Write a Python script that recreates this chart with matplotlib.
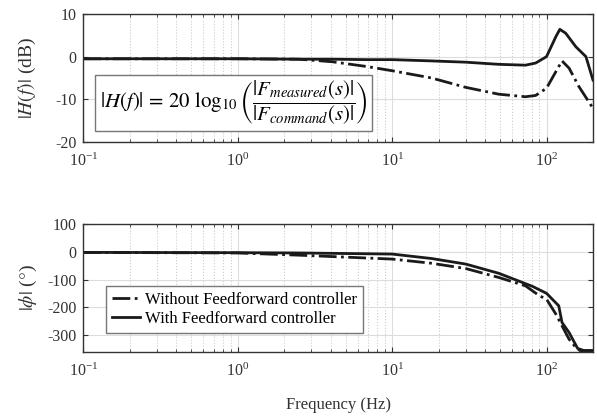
import matplotlib
matplotlib.use("Agg")
import matplotlib.pyplot as plt
import numpy as np

plt.rcParams['font.family'] = ['Liberation Serif', 'DejaVu Serif']
plt.rcParams['mathtext.fontset'] = 'stix'
plt.rcParams['axes.unicode_minus'] = False
plt.rcParams['font.size'] = 11.5

# magnitude (dB)
freq_mag = [0.1, 0.5, 1, 2.5, 4.1, 6.8, 10, 18, 30, 49, 73, 85, 100, 110, 115, 122, 133, 155, 180, 200]
mag_with = [-0.5, -0.5, -0.5, -0.6, -0.6, -0.7, -0.7, -1.0, -1.3, -1.8, -2.0, -1.5, 0.0, 3.2, 4.7, 6.4, 5.5, 2.3, 0.0, -5.5]
freq_mag_wo = [0.1, 0.5, 1, 2.5, 4.1, 6.8, 10, 18, 30, 49, 73, 85, 100, 115, 126, 140, 162, 200]
mag_without = [-0.5, -0.5, -0.5, -0.6, -1.2, -2.3, -3.3, -5.0, -7.2, -8.8, -9.4, -9.1, -7.4, -3.5, -1.0, -2.7, -7.0, -12.1]

# phase (deg)
freq_ph = [0.1, 1, 2.5, 10, 18, 30, 49, 81, 100, 120, 126, 140, 159, 175, 200]
ph_with = [-2, -3, -4, -8, -24, -44, -77, -124, -149, -194, -254, -290, -347, -355, -355]
freq_ph_wo = [0.1, 1, 2.5, 10, 18, 30, 49, 73, 90, 100, 115, 126, 140, 155, 165, 200]
ph_without = [-2, -4, -12, -26, -41, -60, -92, -122, -158, -170, -224, -266, -314, -344, -355, -355]

fig = plt.figure(figsize=(5.97, 4.16), dpi=100)
ax1 = fig.add_axes([0.1396, 0.6587, 0.8537, 0.3077])
ax2 = fig.add_axes([0.1396, 0.1538, 0.8537, 0.3077])

for ax in (ax1, ax2):
    ax.set_xscale('log')
    ax.set_xlim(0.1, 200)
    ax.grid(True, which='major', color='#dddddd', linewidth=0.8)
    ax.grid(True, which='minor', color='#cccccc', linestyle=':', linewidth=0.8)
    ax.tick_params(which='both', direction='in', top=True, right=True, colors='#333333', labelcolor='#333333')
    ax.tick_params(axis='x', pad=8)
    ax.tick_params(axis='y', pad=5)
    for s in ax.spines.values():
        s.set_color('#333333')
        s.set_linewidth(1.0)

ax1.plot(freq_mag_wo, mag_without, color='#1a1a1a', linestyle='-.', linewidth=2)
ax1.plot(freq_mag, mag_with, color='#1a1a1a', linestyle='-', linewidth=2)
ax1.set_ylim(-20, 10)
ax1.set_yticks([10, 0, -10, -20])
ax1.set_ylabel(r'$|H(f)|$ (dB)', fontsize=14, color='#333333', labelpad=12)
ax1.text(0.1275, -10.9,
         r'$|H(f)|\,=\,20\ \log_{10}\left(\dfrac{|F_{measured}(s)|}{|F_{command}(s)|}\right)$',
         fontsize=15, va='center', ha='left',
         bbox=dict(boxstyle='square,pad=0.2', facecolor='white', edgecolor='#777777'))

ax2.plot(freq_ph_wo, ph_without, color='#1a1a1a', linestyle='-.', linewidth=2,
         label='Without Feedforward controller')
ax2.plot(freq_ph, ph_with, color='#1a1a1a', linestyle='-', linewidth=2,
         label='With Feedforward controller')
ax2.set_ylim(-360, 100)
ax2.set_yticks([100, 0, -100, -200, -300])
ax2.set_ylabel(r'$|\phi|$ ($\degree$)', fontsize=14, color='#333333', labelpad=6)
ax2.set_xlabel('Frequency (Hz)', fontsize=12, color='#333333', labelpad=12)
leg = ax2.legend(loc='lower left', bbox_to_anchor=(0.028, 0.085), fontsize=12,
                 fancybox=False, edgecolor='#777777', framealpha=1,
                 borderpad=0.35, handlelength=1.7, handletextpad=0.3, labelspacing=0.2)
leg.get_frame().set_linewidth(1.0)

fig.savefig('out.png', dpi=100)
